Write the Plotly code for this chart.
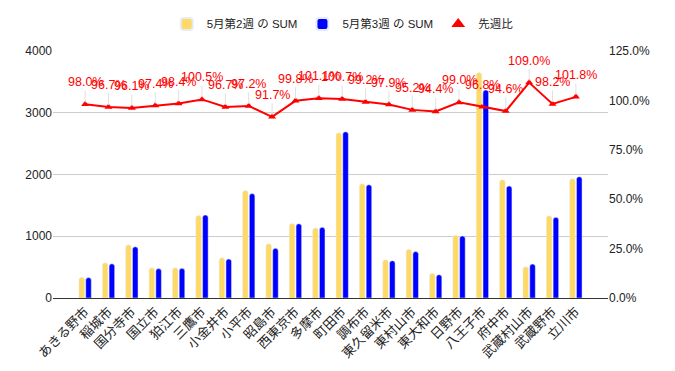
import plotly.graph_objects as go

cities = ["あきる野市", "稲城市", "国分寺市", "国立市", "狛江市", "三鷹市", "小金井市", "小平市",
          "昭島市", "西東京市", "多摩市", "町田市", "調布市", "東久留米市", "東村山市", "東大和市",
          "日野市", "八王子市", "府中市", "武蔵村山市", "武蔵野市", "立川市"]
week2 = [335, 570, 862, 489, 490, 1335, 651, 1742, 880, 1205, 1135, 2675, 1850, 618, 790, 400,
         1015, 3650, 1916, 505, 1330, 1932]
week3 = [330, 554, 830, 476, 480, 1345, 632, 1692, 805, 1203, 1145, 2692, 1835, 605, 752, 378,
         1005, 3370, 1815, 550, 1306, 1965]
ratio = [0.980, 0.967, 0.961, 0.974, 0.984, 1.005, 0.967, 0.972, 0.917, 0.998, 1.011, 1.007,
         0.992, 0.979, 0.952, 0.944, 0.990, 0.968, 0.946, 1.090, 0.982, 1.018]
ratio_labels = ["98.0%", "96.7%", "96.1%", "97.4%", "98.4%", "100.5%", "96.7%", "97.2%", "91.7%",
                "99.8%", "101.1%", "100.7%", "99.2%", "97.9%", "95.2%", "94.4%", "99.0%", "96.8%",
                "94.6%", "109.0%", "98.2%", "101.8%"]

YELLOW = "#FFD966"
BLUE = "#0000FF"
RED = "#FF0000"
FONT = "Liberation Sans, Arial, Noto Sans CJK JP, sans-serif"

fig = go.Figure()
fig.add_trace(go.Bar(x=cities, y=week2, name="5月第2週 の SUM", marker_color=YELLOW))
fig.add_trace(go.Bar(x=cities, y=week3, name="5月第3週 の SUM", marker_color=BLUE))
fig.add_trace(go.Scatter(x=cities, y=ratio, yaxis="y2", mode="lines+markers", name="先週比",
                         line=dict(color=RED, width=2),
                         marker=dict(symbol="triangle-up", size=7, color=RED),
                         showlegend=False))
fig.add_trace(go.Scatter(x=[None], y=[None], yaxis="y2", mode="markers", name="先週比",
                         marker=dict(symbol="triangle-up", size=11, color=RED)))

for c, r, t in zip(cities, ratio, ratio_labels):
    fig.add_annotation(x=c, y=r, xref="x", yref="y2", text=t, showarrow=True,
                       arrowhead=0, arrowwidth=1, arrowcolor="#e0e0e0", ax=0, ay=-22,
                       standoff=2, font=dict(color=RED, size=12.5, family=FONT))

fig.update_layout(
    width=675, height=371,
    margin=dict(l=45, r=75, t=43, b=81),
    paper_bgcolor="white", plot_bgcolor="white",
    font=dict(family=FONT, size=12, color="#222222"),
    barmode="group", bargap=0.42, bargroupgap=0.18, barcornerradius=3,
    legend=dict(orientation="h", x=0.522, xanchor="center", y=0.957, yanchor="middle",
                yref="container", font=dict(size=11.5, color="#222222"),
                itemsizing="constant", traceorder="normal", itemwidth=30),
    xaxis=dict(tickangle=-45, showgrid=False, showline=True, linecolor="#333333", linewidth=1,
               tickfont=dict(size=13, color="#222222"), ticks="", automargin=False),
    yaxis=dict(range=[0, 4000], dtick=1000, showgrid=True, gridcolor="#cccccc", zeroline=False,
               tickfont=dict(size=12, color="#222222"), ticks="", automargin=False),
    yaxis2=dict(range=[0, 1.25], dtick=0.25, tickformat=".1%", overlaying="y", side="right",
                showgrid=False, zeroline=False, automargin=False,
                tickfont=dict(size=12, color="#222222")),
)

fig.write_html("out.html")
